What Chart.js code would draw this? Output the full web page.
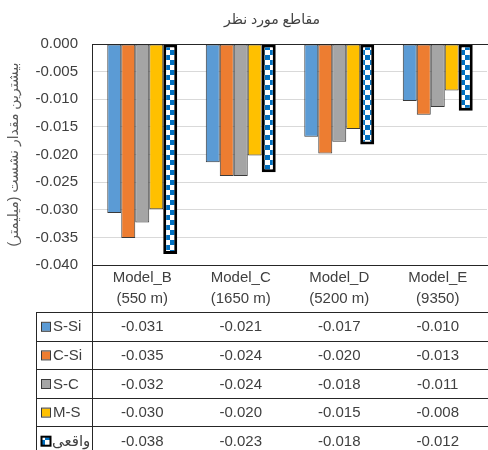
<!DOCTYPE html>
<html>
<head>
<meta charset="utf-8">
<script src="https://cdn.jsdelivr.net/npm/chart.js@4.4.0/dist/chart.umd.min.js"></script>
<style>
  body { margin: 0; background: #fff; }
  #wrap { width: 488px; height: 450px; position: relative; }
</style>
</head>
<body>
<div id="wrap"><canvas id="chart"></canvas></div>
<script>
// data
const categories = ['Model_B', 'Model_C', 'Model_D', 'Model_E'];
const categorySub = ['(550 m)', '(1650 m)', '(5200 m)', '(9350)'];
const seriesNames = ['S-Si', 'C-Si', 'S-C', 'M-S', 'واقعی'];
const sSi = [-0.0306, -0.0214, -0.0168, -0.0103];
const cSi = [-0.0351, -0.0239, -0.0198, -0.0128];
const sC = [-0.0323, -0.0239, -0.0177, -0.0114];
const mS = [-0.0299, -0.0202, -0.0154, -0.0084];
const real = [-0.0380, -0.0232, -0.0182, -0.0121];
const yMin = -0.04, yMax = 0, yStep = 0.005;

const FONT = "'Liberation Sans', 'DejaVu Sans', sans-serif";
const TXT = '#404040';

// checkered fill for the measured series
function checker() {
  const c = document.createElement('canvas');
  c.width = 10; c.height = 10;
  const g = c.getContext('2d');
  g.fillStyle = '#fff'; g.fillRect(0, 0, 10, 10);
  g.fillStyle = '#0070c0';
  g.fillRect(0, 0, 5, 5); g.fillRect(5, 5, 5, 5);
  return g.createPattern(c, 'repeat');
}
const checkPattern = checker();

const colors = ['#5b9bd5', '#ed7d31', '#a5a5a5', '#ffc000', checkPattern];
const allSeries = [sSi, cSi, sC, mS, real];

const datasets = allSeries.map((d, i) => ({
  label: seriesNames[i],
  data: d,
  backgroundColor: colors[i],
  borderColor: i === 4 ? '#000' : '#3a3a3a',
  borderWidth: i === 4 ? 3 : 1,
  borderSkipped: false,
  barPercentage: 1,
  categoryPercentage: 0.71
}));

// title, top axis line and the data table under the plot
const tablePlugin = {
  id: 'dataTable',
  afterDraw(chart) {
    const ctx = chart.ctx;
    const area = chart.chartArea;
    const xs = chart.scales.x;
    const W = chart.width, H = chart.height;
    const tableLeft = 36.5, axisX = Math.round(area.left) - 0.5;
    const headTop = Math.round(area.bottom) + 0.5;
    const headBottom = 312;
    const rowH = 28.6;

    ctx.save();
    // chart title
    ctx.fillStyle = TXT;
    ctx.font = '14px ' + FONT;
    ctx.textAlign = 'center';
    ctx.textBaseline = 'middle';
    ctx.fillText('مقاطع مورد نظر', 272, 20);

    ctx.strokeStyle = '#262626';
    ctx.lineWidth = 1;
    const line = (x1, y1, x2, y2) => { ctx.beginPath(); ctx.moveTo(x1, y1); ctx.lineTo(x2, y2); ctx.stroke(); };
    // zero axis at top
    line(axisX, Math.round(area.top) + 0.5, W, Math.round(area.top) + 0.5);
    // table frame
    line(axisX, Math.round(area.top), axisX, H);
    line(axisX, headTop, W, headTop);
    for (let r = 0; r <= seriesNames.length; r++) {
      const y = Math.round(headBottom + r * rowH) + 0.5;
      line(tableLeft, y, W, y);
    }
    line(tableLeft, headBottom, tableLeft, H);

    // header: category labels
    ctx.font = '15px ' + FONT;
    ctx.fillStyle = TXT;
    categories.forEach((c, i) => {
      const cx = xs.getPixelForValue(i);
      ctx.fillText(c, cx, 278);
      ctx.fillText(categorySub[i], cx, 299);
    });

    // rows
    seriesNames.forEach((name, r) => {
      const mid = headBottom + r * rowH + rowH / 2 + 1;
      // legend key
      ctx.fillStyle = colors[r];
      ctx.fillRect(42, mid - 4.5, 8, 8);
      ctx.strokeStyle = r === 4 ? '#000' : '#3a3a3a';
      ctx.lineWidth = r === 4 ? 2 : 1;
      ctx.strokeRect(41.5, mid - 5, 9, 9);
      ctx.fillStyle = TXT;
      ctx.textAlign = 'left';
      ctx.fillText(name, r === 4 ? 52 : 53, mid);
      ctx.textAlign = 'center';
      allSeries[r].forEach((v, i) => {
        ctx.fillText(v.toFixed(3), xs.getPixelForValue(i), mid);
      });
    });
    ctx.restore();
  }
};

new Chart(document.getElementById('chart'), {
  type: 'bar',
  data: { labels: categories, datasets: datasets },
  plugins: [tablePlugin],
  options: {
    responsive: true,
    maintainAspectRatio: false,
    devicePixelRatio: 1,
    animation: false,
    layout: { padding: { top: 44, bottom: 185, left: 0, right: 1 } },
    plugins: {
      legend: { display: false },
      tooltip: { enabled: false },
      title: { display: false }
    },
    scales: {
      x: { display: false, offset: true },
      y: {
        min: yMin,
        max: yMax,
        afterFit: s => { s.width = 93; },
        ticks: {
          stepSize: yStep,
          padding: 15,
          color: TXT,
          font: { family: FONT, size: 15 },
          callback: v => v.toFixed(3)
        },
        grid: { color: '#d9d9d9', drawTicks: false },
        border: { display: false },
        title: {
          display: true,
          text: 'بیشترین مقدار نشست (میلیمتر)',
          color: '#595959',
          font: { family: FONT, size: 14 },
          padding: { top: 6, bottom: 0 }
        }
      }
    }
  }
});
</script>
</body>
</html>
